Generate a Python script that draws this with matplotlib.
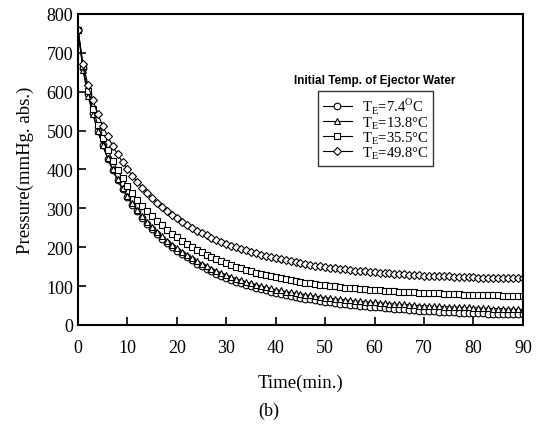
import numpy as np
import matplotlib
matplotlib.use("Agg")
import matplotlib.pyplot as plt

# time axis [min], one reading per minute
time = np.arange(0, 91, 1)

# pressure [mmHg abs.] for each initial ejector water temperature
p_74 = [760, 662, 595, 545, 500, 462, 428, 398, 372, 349,
        328, 309, 292, 276, 261, 247, 234, 222, 211, 201,
        191, 182, 174, 166, 158, 151, 144, 138, 132, 126,
        121, 116, 111, 107, 103, 99, 95, 92, 89, 86,
        83, 80, 77, 75, 72, 70, 68, 66, 64, 62,
        60, 58, 57, 55, 54, 52, 51, 49, 48, 47,
        46, 45, 44, 43, 42, 41, 40, 39, 38, 37,
        36, 36, 35, 34, 34, 33, 33, 32, 32, 31,
        31, 30, 30, 29, 29, 29, 28, 28, 28, 27, 27]
p_138 = [760, 656, 590, 542, 499, 462, 429, 400, 375, 352,
         332, 313, 296, 281, 266, 252, 240, 228, 217, 207,
         197, 188, 180, 172, 165, 158, 151, 145, 139, 134,
         129, 124, 119, 115, 111, 107, 104, 100, 97, 94,
         91, 89, 86, 84, 82, 80, 78, 76, 74, 72,
         70, 69, 67, 66, 65, 63, 62, 61, 60, 59,
         58, 57, 56, 55, 54, 53, 53, 52, 51, 50,
         50, 49, 48, 48, 47, 47, 46, 46, 45, 45,
         44, 44, 43, 43, 42, 42, 42, 41, 41, 40, 40]
p_355 = [760, 665, 602, 555, 515, 480, 450, 423, 399, 377,
         357, 339, 322, 307, 293, 280, 268, 256, 245, 235,
         226, 217, 209, 201, 194, 187, 181, 175, 169, 164,
         159, 154, 150, 146, 142, 138, 135, 132, 129, 126,
         123, 120, 118, 116, 113, 111, 109, 107, 105, 104,
         102, 100, 99, 98, 96, 95, 94, 93, 92, 91,
         90, 89, 88, 87, 87, 86, 85, 84, 84, 83,
         82, 82, 81, 81, 80, 80, 79, 79, 78, 78,
         78, 77, 77, 76, 76, 76, 75, 75, 75, 74, 74]
p_498 = [760, 672, 618, 578, 543, 512, 485, 461, 439, 419,
         401, 384, 368, 353, 339, 326, 314, 303, 293, 283,
         274, 266, 258, 250, 243, 237, 231, 225, 219, 214,
         209, 204, 200, 196, 192, 188, 185, 181, 178, 175,
         172, 169, 167, 164, 162, 159, 157, 155, 153, 151,
         149, 147, 146, 144, 143, 141, 140, 139, 138, 137,
         136, 135, 134, 133, 132, 131, 130, 129, 129, 128,
         127, 127, 126, 126, 125, 125, 124, 124, 123, 123,
         123, 122, 122, 122, 121, 121, 121, 120, 120, 120, 120]

labels = [r"T$_\mathregular{E}$=7.4$^\mathregular{O}$C",
          "T$_\\mathregular{E}$=13.8\u00b0C",
          "T$_\\mathregular{E}$=35.5\u00b0C",
          "T$_\\mathregular{E}$=49.8\u00b0C"]
markers = ["o", "^", "s", "D"]

plt.rcParams["font.family"] = "Liberation Serif"
plt.rcParams["mathtext.fontset"] = "custom"
plt.rcParams["mathtext.rm"] = "Liberation Serif"

fig = plt.figure(figsize=(5.38, 4.35), dpi=100)
ax = fig.add_axes([0.145, 0.2506, 0.827, 0.715])

for p, m, lab in zip([p_74, p_138, p_355, p_498], markers, labels):
    ms = 4.4 if m == "D" else 4.8
    ax.plot(time, p, "k-", lw=0.8, marker=m, ms=ms, mfc="white",
            mec="black", mew=0.8, label=lab)

ax.set_xlim(0, 90)
ax.set_ylim(0, 800)
ax.set_xticks(np.arange(0, 91, 10))
ax.set_yticks(np.arange(0, 801, 100))
ax.tick_params(direction="in", length=6, width=1.2, labelsize=13,
               top=False, right=False)
ax.tick_params(axis="x", pad=10)
for sp in ax.spines.values():
    sp.set_linewidth(1.5)

ax.set_xlabel("Time(min.)", fontsize=13.5, labelpad=13)
ax.set_ylabel("Pressure(mmHg. abs.)", fontsize=13.5, labelpad=9)

leg = ax.legend(loc="upper left", bbox_to_anchor=(0.540, 0.752),
                fontsize=10.5, handlelength=2.0, handletextpad=0.7,
                labelspacing=-0.1, frameon=True, fancybox=False,
                borderpad=0.3, borderaxespad=0.0)
leg.get_frame().set_edgecolor("black")
leg.get_frame().set_linewidth(1.0)

ax.text(0.667, 0.768, "Initial Temp. of Ejector Water", transform=ax.transAxes,
        ha="center", va="bottom", fontsize=8.5, fontweight="bold",
        family="Liberation Sans")

fig.text(0.5, 0.055, "(b)", ha="center", va="center", fontsize=13)

fig.savefig("out.png", dpi=100)
